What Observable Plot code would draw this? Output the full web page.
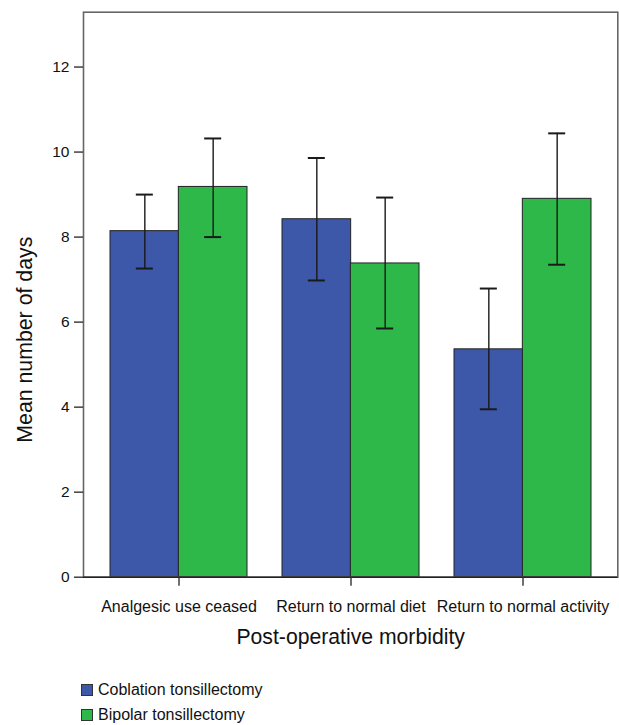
<!DOCTYPE html>
<html>
<head>
<meta charset="utf-8">
<script src="https://cdn.jsdelivr.net/npm/d3@7"></script>
<script src="https://cdn.jsdelivr.net/npm/@observablehq/plot@0.6"></script>
<style>
  html, body { margin: 0; padding: 0; background: #fff; }
  #wrap { position: relative; width: 619px; height: 725px; font-family: "Liberation Sans", Arial, Helvetica, sans-serif; }
  .row { position: absolute; left: 81px; display: flex; align-items: center; height: 14px; font-size: 16px; color: #111; }
  .sw { width: 12px; height: 12px; border: 1px solid #333; box-sizing: border-box; margin-right: 5px; }
</style>
</head>
<body>
<div id="wrap"></div>
<script>
// ---- data ----
const categories = ["Analgesic use ceased", "Return to normal diet", "Return to normal activity"];
const seriesNames = ["Coblation tonsillectomy", "Bipolar tonsillectomy"];
const coblationMean = [8.14, 8.42, 5.36];
const coblationLow  = [7.26, 6.98, 3.95];
const coblationHigh = [9.00, 9.86, 6.79];
const bipolarMean   = [9.18, 7.38, 8.90];
const bipolarLow    = [8.00, 5.85, 7.35];
const bipolarHigh   = [10.32, 8.93, 10.44];
const yTicks = [0, 2, 4, 6, 8, 10, 12];
const colors = ["#3d57a9", "#2eb84a"];

// ---- layout ----
const W = 619, H = 660;
const mL = 83, mR = 1.7, mT = 11.7, mB = 83.3;
const pInner = 0.206, pOuter = 0.155;
const step = (W - mL - mR) / (categories.length - pInner + 2 * pOuter);
const bw = step * (1 - pInner);
const half = bw / 2;
const capW = 16.7;

const rows = [];
categories.forEach((c, i) => {
  rows.push({cat: c, s: 0, mean: coblationMean[i], lo: coblationLow[i], hi: coblationHigh[i]});
  rows.push({cat: c, s: 1, mean: bipolarMean[i], lo: bipolarLow[i], hi: bipolarHigh[i]});
});
const blue = rows.filter(d => d.s === 0);
const green = rows.filter(d => d.s === 1);

const capInsetA = {insetLeft: half / 2 - capW / 2, insetRight: bw - half / 2 - capW / 2};
const capInsetB = {insetLeft: half + half / 2 - capW / 2, insetRight: half / 2 - capW / 2};

const chart = Plot.plot({
  width: W, height: H,
  marginLeft: mL, marginRight: mR, marginTop: mT, marginBottom: mB,
  style: {fontFamily: '"Liberation Sans", Arial, Helvetica, sans-serif', color: "#111", background: "#fff"},
  x: {type: "band", domain: categories, paddingInner: pInner, paddingOuter: pOuter},
  y: {domain: [0, 13.29]},
  marks: [
    Plot.barY(blue, {x: "cat", y: "mean", fill: colors[0], stroke: "#222", strokeWidth: 1, insetLeft: 0, insetRight: half}),
    Plot.barY(green, {x: "cat", y: "mean", fill: colors[1], stroke: "#222", strokeWidth: 1, insetLeft: half, insetRight: 0}),
    Plot.ruleX(blue, {x: "cat", y1: "lo", y2: "hi", dx: -half / 2, stroke: "#1a1a1a", strokeWidth: 1.4}),
    Plot.ruleX(green, {x: "cat", y1: "lo", y2: "hi", dx: half / 2, stroke: "#1a1a1a", strokeWidth: 1.4}),
    Plot.tickY(blue, {x: "cat", y: "lo", stroke: "#1a1a1a", strokeWidth: 2, ...capInsetA}),
    Plot.tickY(blue, {x: "cat", y: "hi", stroke: "#1a1a1a", strokeWidth: 2, ...capInsetA}),
    Plot.tickY(green, {x: "cat", y: "lo", stroke: "#1a1a1a", strokeWidth: 2, ...capInsetB}),
    Plot.tickY(green, {x: "cat", y: "hi", stroke: "#1a1a1a", strokeWidth: 2, ...capInsetB}),
    Plot.frame({stroke: "#666", strokeWidth: 1.6}),
    Plot.ruleY([0], {stroke: "#222", strokeWidth: 1.6}),
    Plot.axisY({ticks: yTicks, tickSize: 9, tickPadding: 5, fontSize: 15.5, label: null, stroke: "#333", strokeWidth: 1.4}),
    Plot.axisX({tickSize: 9, tickPadding: 14, fontSize: 16, label: null, stroke: "#333", strokeWidth: 1.4}),
    Plot.text(["Post-operative morbidity"], {frameAnchor: "bottom", dy: 60.3, fontSize: 21.2, lineAnchor: "middle", fill: "#111"}),
    Plot.text(["Mean number of days"], {frameAnchor: "left", textAnchor: "middle", dx: -58.5, dy: 45, rotate: -90, fontSize: 21.3, lineAnchor: "middle", fill: "#111"})
  ]
});

const wrap = document.getElementById("wrap");
wrap.appendChild(chart);
seriesNames.forEach((name, i) => {
  const row = document.createElement("div");
  row.className = "row";
  row.style.top = (683 + i * 25) + "px";
  const sw = document.createElement("div");
  sw.className = "sw";
  sw.style.background = colors[i];
  const t = document.createElement("span");
  t.textContent = name;
  row.appendChild(sw);
  row.appendChild(t);
  wrap.appendChild(row);
});
</script>
</body>
</html>
